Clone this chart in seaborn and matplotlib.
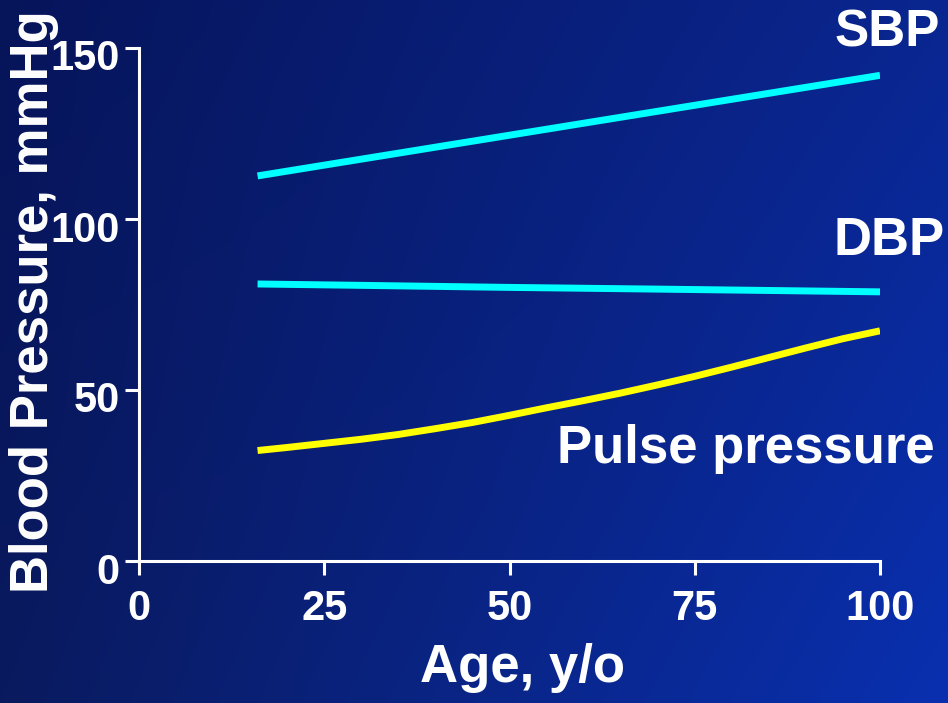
import numpy as np
import pandas as pd
import matplotlib
matplotlib.use("Agg")
import matplotlib.pyplot as plt
import matplotlib.transforms as mtransforms
import seaborn as sns

# ---- data ----
sbp_age = [16, 30, 40, 50, 60, 70, 80, 90, 100]
sbp_val = [112.6, 117.5, 121.0, 124.5, 128.0, 131.5, 135.0, 138.5, 142.0]
dbp_age = [16, 30, 50, 70, 100]
dbp_val = [81.0, 80.6, 80.0, 79.5, 78.7]
pp_age = [16, 20, 25, 30, 35, 40, 45, 50, 55, 60, 65, 70, 75, 80, 85, 90, 95, 100]
pp_val = [32.3, 33.2, 34.4, 35.6, 37.0, 38.7, 40.5, 42.6, 44.8, 46.9, 49.1, 51.5, 54.0,
          56.7, 59.5, 62.3, 65.0, 67.3]
x_ticks = [0, 25, 50, 75, 100]
y_ticks = [0, 50, 100, 150]

sns.set_theme(style="ticks")
plt.rcParams['font.family'] = ['Liberation Sans', 'DejaVu Sans']
plt.rcParams['font.weight'] = 'bold'

fig = plt.figure(figsize=(9.48, 7.03), dpi=100)

# background gradient
bg = fig.add_axes([0, 0, 1, 1])
tl = np.array([6, 20, 90]) / 255
tr = np.array([10, 38, 144]) / 255
bl = np.array([10, 26, 94]) / 255
br = np.array([10, 48, 176]) / 255
nx, ny = 200, 150
u = np.linspace(0, 1, nx)[None, :, None]
v = np.linspace(0, 1, ny)[:, None, None]
img = (tl * (1 - u) * (1 - v) + tr * u * (1 - v) + bl * (1 - u) * v + br * u * v)
bg.imshow(img, aspect='auto', extent=[0, 1, 0, 1], origin='upper', interpolation='bicubic')
bg.set_axis_off()

ax = fig.add_axes([139 / 948, 1 - 561 / 703, (880 - 139) / 948, (561 - 48) / 703])
ax.patch.set_alpha(0)

df = pd.concat([
    pd.DataFrame({"age": sbp_age, "bp": sbp_val, "series": "SBP"}),
    pd.DataFrame({"age": dbp_age, "bp": dbp_val, "series": "DBP"}),
    pd.DataFrame({"age": pp_age, "bp": pp_val, "series": "Pulse pressure"}),
])
palette = {"SBP": "#00ffff", "DBP": "#00ffff", "Pulse pressure": "#ffff00"}
sns.lineplot(data=df, x="age", y="bp", hue="series", palette=palette,
             linewidth=5, ax=ax, legend=False, estimator=None, sort=True)
for ln in ax.lines:
    ln.set_solid_capstyle('butt')
    ln.set_solid_joinstyle('round')

ax.set_xlim(0, 100)
ax.set_ylim(0, 150)
ax.set_xticks(x_ticks)
ax.set_yticks(y_ticks)
for s in ["top", "right"]:
    ax.spines[s].set_visible(False)
for s in ["left", "bottom"]:
    ax.spines[s].set_color("white")
    ax.spines[s].set_linewidth(2.2)
ax.tick_params(axis='both', colors='white', length=10, width=2.2, direction='out',
               labelsize=30)
ax.tick_params(axis='x', pad=10)
ax.tick_params(axis='y', pad=4)
offset = mtransforms.ScaledTranslation(0, -7 / 100, fig.dpi_scale_trans)
for lab in ax.get_yticklabels():
    lab.set_transform(lab.get_transform() + offset)
for lab in ax.get_xticklabels() + ax.get_yticklabels():
    lab.set_fontweight('bold')
    lab.set_color('white')

ax.set_xlabel("Age, y/o", fontsize=38, fontweight='bold', color='white')
ax.set_ylabel("Blood Pressure, mmHg", fontsize=38, fontweight='bold', color='white')
ax.xaxis.set_label_coords(0.517, -0.16)
ax.yaxis.set_label_coords(-0.108, 0.505)

fig.text(940 / 948, 1 - 33 / 703, "SBP", fontsize=37, fontweight='bold', color='white',
         ha='right', va='center')
fig.text(945 / 948, 1 - 241 / 703, "DBP", fontsize=38, fontweight='bold', color='white',
         ha='right', va='center')
fig.text(935 / 948, 1 - 449 / 703, "Pulse pressure", fontsize=38, fontweight='bold',
         color='white', ha='right', va='center')

fig.savefig("out.png", dpi=100)
